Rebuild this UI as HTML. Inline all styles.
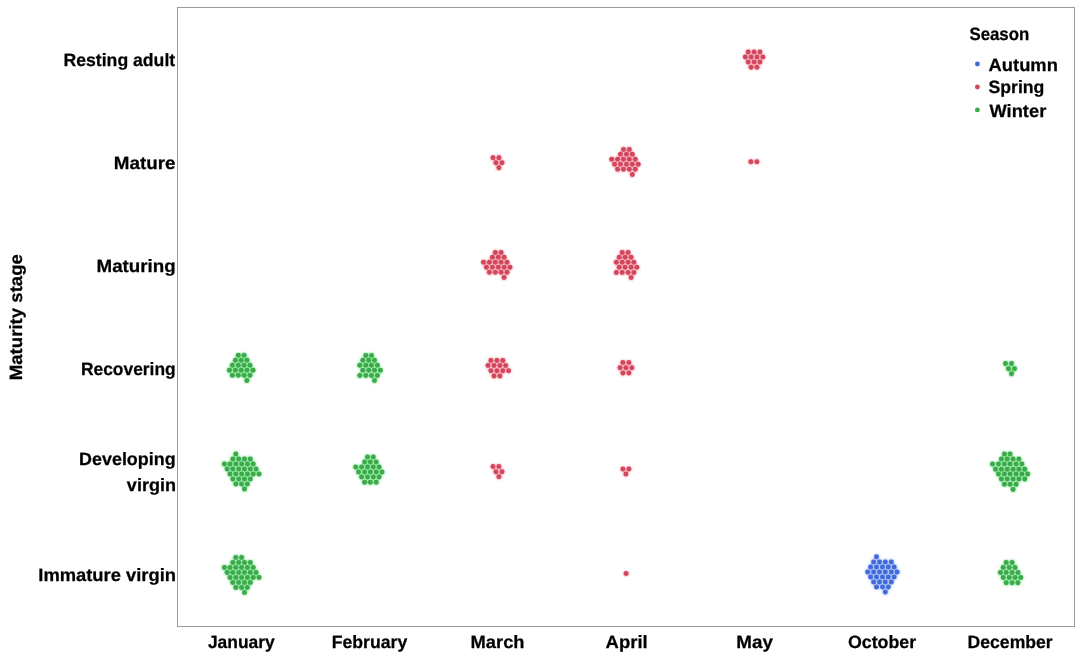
<!DOCTYPE html>
<html lang="en">
<head>
<meta charset="utf-8">
<title>Maturity stage by month</title>
<style>
html,body{margin:0;padding:0;background:#fff;}
body{width:1082px;height:656px;overflow:hidden;}
svg{display:block;will-change:transform;}
text{text-rendering:geometricPrecision;font-family:"Liberation Sans",sans-serif;font-weight:bold;font-size:17.8px;fill:#000;stroke:#000;stroke-width:0.25px;}
</style>
</head>
<body>
<svg width="1082" height="656" viewBox="0 0 1082 656">
<defs><filter id="halo" filterUnits="userSpaceOnUse" x="0" y="0" width="1082" height="656" color-interpolation-filters="sRGB"><feGaussianBlur stdDeviation="0.9"/><feComponentTransfer><feFuncA type="linear" slope="1.0"/></feComponentTransfer></filter></defs>
<rect x="0" y="0" width="1082" height="656" fill="#fff"/>
<rect x="177.5" y="7.5" width="897" height="619" fill="none" stroke="#9a9a9a" stroke-width="1"/>
<g fill="#62DC7A" filter="url(#halo)"><circle cx="235.8" cy="557.4" r="2.6"/><circle cx="241.6" cy="557.4" r="2.6"/><circle cx="232.8" cy="562.4" r="2.6"/><circle cx="238.7" cy="562.4" r="2.6"/><circle cx="244.5" cy="562.4" r="2.6"/><circle cx="250.3" cy="562.4" r="2.6"/><circle cx="224.4" cy="567.4" r="2.6"/><circle cx="230.0" cy="567.4" r="2.6"/><circle cx="235.8" cy="567.4" r="2.6"/><circle cx="241.6" cy="567.4" r="2.6"/><circle cx="247.4" cy="567.4" r="2.6"/><circle cx="253.2" cy="567.4" r="2.6"/><circle cx="227.1" cy="572.4" r="2.6"/><circle cx="232.8" cy="572.4" r="2.6"/><circle cx="238.7" cy="572.4" r="2.6"/><circle cx="244.5" cy="572.4" r="2.6"/><circle cx="250.3" cy="572.4" r="2.6"/><circle cx="256.1" cy="572.4" r="2.6"/><circle cx="230.0" cy="577.4" r="2.6"/><circle cx="235.8" cy="577.4" r="2.6"/><circle cx="241.6" cy="577.4" r="2.6"/><circle cx="247.4" cy="577.4" r="2.6"/><circle cx="253.2" cy="577.4" r="2.6"/><circle cx="259.0" cy="577.4" r="2.6"/><circle cx="232.8" cy="582.4" r="2.6"/><circle cx="238.7" cy="582.4" r="2.6"/><circle cx="244.5" cy="582.4" r="2.6"/><circle cx="250.3" cy="582.4" r="2.6"/><circle cx="235.8" cy="587.4" r="2.6"/><circle cx="241.6" cy="587.4" r="2.6"/><circle cx="247.4" cy="587.4" r="2.6"/><circle cx="244.5" cy="592.4" r="2.6"/><circle cx="235.8" cy="453.9" r="2.6"/><circle cx="232.8" cy="458.9" r="2.6"/><circle cx="238.7" cy="458.9" r="2.6"/><circle cx="244.5" cy="458.9" r="2.6"/><circle cx="250.3" cy="458.9" r="2.6"/><circle cx="224.4" cy="463.9" r="2.6"/><circle cx="230.0" cy="463.9" r="2.6"/><circle cx="235.8" cy="463.9" r="2.6"/><circle cx="241.6" cy="463.9" r="2.6"/><circle cx="247.4" cy="463.9" r="2.6"/><circle cx="253.2" cy="463.9" r="2.6"/><circle cx="227.1" cy="469.0" r="2.6"/><circle cx="232.8" cy="469.0" r="2.6"/><circle cx="238.7" cy="469.0" r="2.6"/><circle cx="244.5" cy="469.0" r="2.6"/><circle cx="250.3" cy="469.0" r="2.6"/><circle cx="256.1" cy="469.0" r="2.6"/><circle cx="230.0" cy="474.0" r="2.6"/><circle cx="235.8" cy="474.0" r="2.6"/><circle cx="241.6" cy="474.0" r="2.6"/><circle cx="247.4" cy="474.0" r="2.6"/><circle cx="253.2" cy="474.0" r="2.6"/><circle cx="259.0" cy="474.0" r="2.6"/><circle cx="232.8" cy="479.0" r="2.6"/><circle cx="238.7" cy="479.0" r="2.6"/><circle cx="244.5" cy="479.0" r="2.6"/><circle cx="250.3" cy="479.0" r="2.6"/><circle cx="235.8" cy="484.0" r="2.6"/><circle cx="241.6" cy="484.0" r="2.6"/><circle cx="247.4" cy="484.0" r="2.6"/><circle cx="244.5" cy="489.0" r="2.6"/><circle cx="238.3" cy="355.3" r="2.6"/><circle cx="244.1" cy="355.3" r="2.6"/><circle cx="235.4" cy="360.2" r="2.6"/><circle cx="241.2" cy="360.2" r="2.6"/><circle cx="247.0" cy="360.2" r="2.6"/><circle cx="232.4" cy="365.2" r="2.6"/><circle cx="238.3" cy="365.2" r="2.6"/><circle cx="244.1" cy="365.2" r="2.6"/><circle cx="250.0" cy="365.2" r="2.6"/><circle cx="229.4" cy="370.2" r="2.6"/><circle cx="235.4" cy="370.2" r="2.6"/><circle cx="241.2" cy="370.2" r="2.6"/><circle cx="247.0" cy="370.2" r="2.6"/><circle cx="253.0" cy="370.2" r="2.6"/><circle cx="232.4" cy="375.3" r="2.6"/><circle cx="238.3" cy="375.3" r="2.6"/><circle cx="244.1" cy="375.3" r="2.6"/><circle cx="250.0" cy="375.3" r="2.6"/><circle cx="246.9" cy="380.4" r="2.6"/><circle cx="365.8" cy="355.4" r="2.6"/><circle cx="371.5" cy="355.4" r="2.6"/><circle cx="362.8" cy="360.3" r="2.6"/><circle cx="368.7" cy="360.3" r="2.6"/><circle cx="374.5" cy="360.3" r="2.6"/><circle cx="359.8" cy="365.3" r="2.6"/><circle cx="365.8" cy="365.3" r="2.6"/><circle cx="371.5" cy="365.3" r="2.6"/><circle cx="377.4" cy="365.3" r="2.6"/><circle cx="362.8" cy="370.3" r="2.6"/><circle cx="368.7" cy="370.3" r="2.6"/><circle cx="374.5" cy="370.3" r="2.6"/><circle cx="380.4" cy="370.3" r="2.6"/><circle cx="359.8" cy="375.5" r="2.6"/><circle cx="365.8" cy="375.5" r="2.6"/><circle cx="371.5" cy="375.5" r="2.6"/><circle cx="377.4" cy="375.5" r="2.6"/><circle cx="374.5" cy="380.6" r="2.6"/><circle cx="367.5" cy="457.1" r="2.6"/><circle cx="373.3" cy="457.1" r="2.6"/><circle cx="364.6" cy="462.1" r="2.6"/><circle cx="370.3" cy="462.1" r="2.6"/><circle cx="376.2" cy="462.1" r="2.6"/><circle cx="355.7" cy="467.1" r="2.6"/><circle cx="361.6" cy="467.1" r="2.6"/><circle cx="367.5" cy="467.1" r="2.6"/><circle cx="373.3" cy="467.1" r="2.6"/><circle cx="379.1" cy="467.1" r="2.6"/><circle cx="358.6" cy="472.1" r="2.6"/><circle cx="364.6" cy="472.1" r="2.6"/><circle cx="370.3" cy="472.1" r="2.6"/><circle cx="376.2" cy="472.1" r="2.6"/><circle cx="382.0" cy="472.1" r="2.6"/><circle cx="361.6" cy="477.1" r="2.6"/><circle cx="367.5" cy="477.1" r="2.6"/><circle cx="373.3" cy="477.1" r="2.6"/><circle cx="379.1" cy="477.1" r="2.6"/><circle cx="364.6" cy="482.3" r="2.6"/><circle cx="370.3" cy="482.3" r="2.6"/><circle cx="376.2" cy="482.3" r="2.6"/><circle cx="1006.2" cy="562.4" r="2.6"/><circle cx="1012.1" cy="562.4" r="2.6"/><circle cx="1003.2" cy="567.4" r="2.6"/><circle cx="1009.2" cy="567.4" r="2.6"/><circle cx="1015.0" cy="567.4" r="2.6"/><circle cx="1000.4" cy="572.6" r="2.6"/><circle cx="1006.2" cy="572.6" r="2.6"/><circle cx="1012.1" cy="572.6" r="2.6"/><circle cx="1018.0" cy="572.6" r="2.6"/><circle cx="1003.2" cy="577.6" r="2.6"/><circle cx="1009.2" cy="577.6" r="2.6"/><circle cx="1015.0" cy="577.6" r="2.6"/><circle cx="1020.8" cy="577.6" r="2.6"/><circle cx="1006.2" cy="582.7" r="2.6"/><circle cx="1012.1" cy="582.7" r="2.6"/><circle cx="1017.9" cy="582.7" r="2.6"/><circle cx="1004.4" cy="454.1" r="2.6"/><circle cx="1010.1" cy="454.1" r="2.6"/><circle cx="1001.4" cy="459.1" r="2.6"/><circle cx="1007.2" cy="459.1" r="2.6"/><circle cx="1013.1" cy="459.1" r="2.6"/><circle cx="1018.9" cy="459.1" r="2.6"/><circle cx="992.5" cy="464.1" r="2.6"/><circle cx="998.5" cy="464.1" r="2.6"/><circle cx="1004.4" cy="464.1" r="2.6"/><circle cx="1010.1" cy="464.1" r="2.6"/><circle cx="1016.1" cy="464.1" r="2.6"/><circle cx="1021.9" cy="464.1" r="2.6"/><circle cx="995.5" cy="469.2" r="2.6"/><circle cx="1001.4" cy="469.2" r="2.6"/><circle cx="1007.2" cy="469.2" r="2.6"/><circle cx="1013.1" cy="469.2" r="2.6"/><circle cx="1018.9" cy="469.2" r="2.6"/><circle cx="1024.8" cy="469.2" r="2.6"/><circle cx="998.5" cy="474.1" r="2.6"/><circle cx="1004.4" cy="474.1" r="2.6"/><circle cx="1010.1" cy="474.1" r="2.6"/><circle cx="1016.1" cy="474.1" r="2.6"/><circle cx="1021.9" cy="474.1" r="2.6"/><circle cx="1027.7" cy="474.1" r="2.6"/><circle cx="1001.4" cy="479.1" r="2.6"/><circle cx="1007.2" cy="479.1" r="2.6"/><circle cx="1013.1" cy="479.1" r="2.6"/><circle cx="1018.9" cy="479.1" r="2.6"/><circle cx="1024.8" cy="479.1" r="2.6"/><circle cx="1004.4" cy="484.3" r="2.6"/><circle cx="1010.1" cy="484.3" r="2.6"/><circle cx="1016.1" cy="484.3" r="2.6"/><circle cx="1013.1" cy="489.4" r="2.6"/><circle cx="1005.5" cy="363.6" r="2.6"/><circle cx="1011.5" cy="363.6" r="2.6"/><circle cx="1008.5" cy="368.7" r="2.6"/><circle cx="1014.5" cy="368.7" r="2.6"/><circle cx="1011.5" cy="373.7" r="2.6"/></g>
<g fill="#3DAA4A"><circle cx="235.8" cy="557.4" r="2.48"/><circle cx="241.6" cy="557.4" r="2.48"/><circle cx="232.8" cy="562.4" r="2.48"/><circle cx="238.7" cy="562.4" r="2.48"/><circle cx="244.5" cy="562.4" r="2.48"/><circle cx="250.3" cy="562.4" r="2.48"/><circle cx="224.4" cy="567.4" r="2.48"/><circle cx="230.0" cy="567.4" r="2.48"/><circle cx="235.8" cy="567.4" r="2.48"/><circle cx="241.6" cy="567.4" r="2.48"/><circle cx="247.4" cy="567.4" r="2.48"/><circle cx="253.2" cy="567.4" r="2.48"/><circle cx="227.1" cy="572.4" r="2.48"/><circle cx="232.8" cy="572.4" r="2.48"/><circle cx="238.7" cy="572.4" r="2.48"/><circle cx="244.5" cy="572.4" r="2.48"/><circle cx="250.3" cy="572.4" r="2.48"/><circle cx="256.1" cy="572.4" r="2.48"/><circle cx="230.0" cy="577.4" r="2.48"/><circle cx="235.8" cy="577.4" r="2.48"/><circle cx="241.6" cy="577.4" r="2.48"/><circle cx="247.4" cy="577.4" r="2.48"/><circle cx="253.2" cy="577.4" r="2.48"/><circle cx="259.0" cy="577.4" r="2.48"/><circle cx="232.8" cy="582.4" r="2.48"/><circle cx="238.7" cy="582.4" r="2.48"/><circle cx="244.5" cy="582.4" r="2.48"/><circle cx="250.3" cy="582.4" r="2.48"/><circle cx="235.8" cy="587.4" r="2.48"/><circle cx="241.6" cy="587.4" r="2.48"/><circle cx="247.4" cy="587.4" r="2.48"/><circle cx="244.5" cy="592.4" r="2.48"/><circle cx="235.8" cy="453.9" r="2.48"/><circle cx="232.8" cy="458.9" r="2.48"/><circle cx="238.7" cy="458.9" r="2.48"/><circle cx="244.5" cy="458.9" r="2.48"/><circle cx="250.3" cy="458.9" r="2.48"/><circle cx="224.4" cy="463.9" r="2.48"/><circle cx="230.0" cy="463.9" r="2.48"/><circle cx="235.8" cy="463.9" r="2.48"/><circle cx="241.6" cy="463.9" r="2.48"/><circle cx="247.4" cy="463.9" r="2.48"/><circle cx="253.2" cy="463.9" r="2.48"/><circle cx="227.1" cy="469.0" r="2.48"/><circle cx="232.8" cy="469.0" r="2.48"/><circle cx="238.7" cy="469.0" r="2.48"/><circle cx="244.5" cy="469.0" r="2.48"/><circle cx="250.3" cy="469.0" r="2.48"/><circle cx="256.1" cy="469.0" r="2.48"/><circle cx="230.0" cy="474.0" r="2.48"/><circle cx="235.8" cy="474.0" r="2.48"/><circle cx="241.6" cy="474.0" r="2.48"/><circle cx="247.4" cy="474.0" r="2.48"/><circle cx="253.2" cy="474.0" r="2.48"/><circle cx="259.0" cy="474.0" r="2.48"/><circle cx="232.8" cy="479.0" r="2.48"/><circle cx="238.7" cy="479.0" r="2.48"/><circle cx="244.5" cy="479.0" r="2.48"/><circle cx="250.3" cy="479.0" r="2.48"/><circle cx="235.8" cy="484.0" r="2.48"/><circle cx="241.6" cy="484.0" r="2.48"/><circle cx="247.4" cy="484.0" r="2.48"/><circle cx="244.5" cy="489.0" r="2.48"/><circle cx="238.3" cy="355.3" r="2.48"/><circle cx="244.1" cy="355.3" r="2.48"/><circle cx="235.4" cy="360.2" r="2.48"/><circle cx="241.2" cy="360.2" r="2.48"/><circle cx="247.0" cy="360.2" r="2.48"/><circle cx="232.4" cy="365.2" r="2.48"/><circle cx="238.3" cy="365.2" r="2.48"/><circle cx="244.1" cy="365.2" r="2.48"/><circle cx="250.0" cy="365.2" r="2.48"/><circle cx="229.4" cy="370.2" r="2.48"/><circle cx="235.4" cy="370.2" r="2.48"/><circle cx="241.2" cy="370.2" r="2.48"/><circle cx="247.0" cy="370.2" r="2.48"/><circle cx="253.0" cy="370.2" r="2.48"/><circle cx="232.4" cy="375.3" r="2.48"/><circle cx="238.3" cy="375.3" r="2.48"/><circle cx="244.1" cy="375.3" r="2.48"/><circle cx="250.0" cy="375.3" r="2.48"/><circle cx="246.9" cy="380.4" r="2.48"/><circle cx="365.8" cy="355.4" r="2.48"/><circle cx="371.5" cy="355.4" r="2.48"/><circle cx="362.8" cy="360.3" r="2.48"/><circle cx="368.7" cy="360.3" r="2.48"/><circle cx="374.5" cy="360.3" r="2.48"/><circle cx="359.8" cy="365.3" r="2.48"/><circle cx="365.8" cy="365.3" r="2.48"/><circle cx="371.5" cy="365.3" r="2.48"/><circle cx="377.4" cy="365.3" r="2.48"/><circle cx="362.8" cy="370.3" r="2.48"/><circle cx="368.7" cy="370.3" r="2.48"/><circle cx="374.5" cy="370.3" r="2.48"/><circle cx="380.4" cy="370.3" r="2.48"/><circle cx="359.8" cy="375.5" r="2.48"/><circle cx="365.8" cy="375.5" r="2.48"/><circle cx="371.5" cy="375.5" r="2.48"/><circle cx="377.4" cy="375.5" r="2.48"/><circle cx="374.5" cy="380.6" r="2.48"/><circle cx="367.5" cy="457.1" r="2.48"/><circle cx="373.3" cy="457.1" r="2.48"/><circle cx="364.6" cy="462.1" r="2.48"/><circle cx="370.3" cy="462.1" r="2.48"/><circle cx="376.2" cy="462.1" r="2.48"/><circle cx="355.7" cy="467.1" r="2.48"/><circle cx="361.6" cy="467.1" r="2.48"/><circle cx="367.5" cy="467.1" r="2.48"/><circle cx="373.3" cy="467.1" r="2.48"/><circle cx="379.1" cy="467.1" r="2.48"/><circle cx="358.6" cy="472.1" r="2.48"/><circle cx="364.6" cy="472.1" r="2.48"/><circle cx="370.3" cy="472.1" r="2.48"/><circle cx="376.2" cy="472.1" r="2.48"/><circle cx="382.0" cy="472.1" r="2.48"/><circle cx="361.6" cy="477.1" r="2.48"/><circle cx="367.5" cy="477.1" r="2.48"/><circle cx="373.3" cy="477.1" r="2.48"/><circle cx="379.1" cy="477.1" r="2.48"/><circle cx="364.6" cy="482.3" r="2.48"/><circle cx="370.3" cy="482.3" r="2.48"/><circle cx="376.2" cy="482.3" r="2.48"/><circle cx="1006.2" cy="562.4" r="2.48"/><circle cx="1012.1" cy="562.4" r="2.48"/><circle cx="1003.2" cy="567.4" r="2.48"/><circle cx="1009.2" cy="567.4" r="2.48"/><circle cx="1015.0" cy="567.4" r="2.48"/><circle cx="1000.4" cy="572.6" r="2.48"/><circle cx="1006.2" cy="572.6" r="2.48"/><circle cx="1012.1" cy="572.6" r="2.48"/><circle cx="1018.0" cy="572.6" r="2.48"/><circle cx="1003.2" cy="577.6" r="2.48"/><circle cx="1009.2" cy="577.6" r="2.48"/><circle cx="1015.0" cy="577.6" r="2.48"/><circle cx="1020.8" cy="577.6" r="2.48"/><circle cx="1006.2" cy="582.7" r="2.48"/><circle cx="1012.1" cy="582.7" r="2.48"/><circle cx="1017.9" cy="582.7" r="2.48"/><circle cx="1004.4" cy="454.1" r="2.48"/><circle cx="1010.1" cy="454.1" r="2.48"/><circle cx="1001.4" cy="459.1" r="2.48"/><circle cx="1007.2" cy="459.1" r="2.48"/><circle cx="1013.1" cy="459.1" r="2.48"/><circle cx="1018.9" cy="459.1" r="2.48"/><circle cx="992.5" cy="464.1" r="2.48"/><circle cx="998.5" cy="464.1" r="2.48"/><circle cx="1004.4" cy="464.1" r="2.48"/><circle cx="1010.1" cy="464.1" r="2.48"/><circle cx="1016.1" cy="464.1" r="2.48"/><circle cx="1021.9" cy="464.1" r="2.48"/><circle cx="995.5" cy="469.2" r="2.48"/><circle cx="1001.4" cy="469.2" r="2.48"/><circle cx="1007.2" cy="469.2" r="2.48"/><circle cx="1013.1" cy="469.2" r="2.48"/><circle cx="1018.9" cy="469.2" r="2.48"/><circle cx="1024.8" cy="469.2" r="2.48"/><circle cx="998.5" cy="474.1" r="2.48"/><circle cx="1004.4" cy="474.1" r="2.48"/><circle cx="1010.1" cy="474.1" r="2.48"/><circle cx="1016.1" cy="474.1" r="2.48"/><circle cx="1021.9" cy="474.1" r="2.48"/><circle cx="1027.7" cy="474.1" r="2.48"/><circle cx="1001.4" cy="479.1" r="2.48"/><circle cx="1007.2" cy="479.1" r="2.48"/><circle cx="1013.1" cy="479.1" r="2.48"/><circle cx="1018.9" cy="479.1" r="2.48"/><circle cx="1024.8" cy="479.1" r="2.48"/><circle cx="1004.4" cy="484.3" r="2.48"/><circle cx="1010.1" cy="484.3" r="2.48"/><circle cx="1016.1" cy="484.3" r="2.48"/><circle cx="1013.1" cy="489.4" r="2.48"/><circle cx="1005.5" cy="363.6" r="2.48"/><circle cx="1011.5" cy="363.6" r="2.48"/><circle cx="1008.5" cy="368.7" r="2.48"/><circle cx="1014.5" cy="368.7" r="2.48"/><circle cx="1011.5" cy="373.7" r="2.48"/></g>
<g fill="#F58A98" filter="url(#halo)"><circle cx="493.0" cy="157.7" r="2.6"/><circle cx="498.9" cy="157.7" r="2.6"/><circle cx="495.9" cy="162.7" r="2.6"/><circle cx="502.0" cy="162.7" r="2.6"/><circle cx="498.9" cy="167.7" r="2.6"/><circle cx="495.3" cy="252.4" r="2.6"/><circle cx="501.1" cy="252.4" r="2.6"/><circle cx="492.4" cy="257.3" r="2.6"/><circle cx="498.3" cy="257.3" r="2.6"/><circle cx="504.1" cy="257.3" r="2.6"/><circle cx="483.5" cy="262.2" r="2.6"/><circle cx="489.4" cy="262.2" r="2.6"/><circle cx="495.3" cy="262.2" r="2.6"/><circle cx="501.1" cy="262.2" r="2.6"/><circle cx="507.0" cy="262.2" r="2.6"/><circle cx="486.4" cy="267.3" r="2.6"/><circle cx="492.4" cy="267.3" r="2.6"/><circle cx="498.3" cy="267.3" r="2.6"/><circle cx="504.1" cy="267.3" r="2.6"/><circle cx="510.0" cy="267.3" r="2.6"/><circle cx="489.4" cy="272.3" r="2.6"/><circle cx="495.3" cy="272.3" r="2.6"/><circle cx="501.1" cy="272.3" r="2.6"/><circle cx="507.0" cy="272.3" r="2.6"/><circle cx="504.1" cy="277.5" r="2.6"/><circle cx="490.9" cy="360.4" r="2.6"/><circle cx="496.9" cy="360.4" r="2.6"/><circle cx="502.8" cy="360.4" r="2.6"/><circle cx="488.0" cy="365.6" r="2.6"/><circle cx="494.0" cy="365.6" r="2.6"/><circle cx="499.9" cy="365.6" r="2.6"/><circle cx="505.7" cy="365.6" r="2.6"/><circle cx="490.9" cy="370.7" r="2.6"/><circle cx="496.9" cy="370.7" r="2.6"/><circle cx="502.8" cy="370.7" r="2.6"/><circle cx="508.6" cy="370.7" r="2.6"/><circle cx="494.0" cy="375.9" r="2.6"/><circle cx="499.9" cy="375.9" r="2.6"/><circle cx="493.0" cy="466.6" r="2.6"/><circle cx="498.9" cy="466.6" r="2.6"/><circle cx="495.9" cy="471.7" r="2.6"/><circle cx="502.0" cy="471.7" r="2.6"/><circle cx="498.9" cy="476.7" r="2.6"/><circle cx="623.5" cy="149.4" r="2.6"/><circle cx="629.3" cy="149.4" r="2.6"/><circle cx="620.5" cy="154.3" r="2.6"/><circle cx="626.5" cy="154.3" r="2.6"/><circle cx="632.3" cy="154.3" r="2.6"/><circle cx="611.7" cy="159.3" r="2.6"/><circle cx="617.6" cy="159.3" r="2.6"/><circle cx="623.5" cy="159.3" r="2.6"/><circle cx="629.3" cy="159.3" r="2.6"/><circle cx="635.3" cy="159.3" r="2.6"/><circle cx="614.6" cy="164.3" r="2.6"/><circle cx="620.5" cy="164.3" r="2.6"/><circle cx="626.5" cy="164.3" r="2.6"/><circle cx="632.3" cy="164.3" r="2.6"/><circle cx="638.2" cy="164.3" r="2.6"/><circle cx="617.6" cy="169.3" r="2.6"/><circle cx="623.5" cy="169.3" r="2.6"/><circle cx="629.3" cy="169.3" r="2.6"/><circle cx="635.3" cy="169.3" r="2.6"/><circle cx="632.3" cy="174.5" r="2.6"/><circle cx="622.2" cy="252.4" r="2.6"/><circle cx="628.1" cy="252.4" r="2.6"/><circle cx="619.2" cy="257.3" r="2.6"/><circle cx="625.1" cy="257.3" r="2.6"/><circle cx="631.1" cy="257.3" r="2.6"/><circle cx="616.3" cy="262.3" r="2.6"/><circle cx="622.2" cy="262.3" r="2.6"/><circle cx="628.1" cy="262.3" r="2.6"/><circle cx="633.9" cy="262.3" r="2.6"/><circle cx="619.2" cy="267.3" r="2.6"/><circle cx="625.1" cy="267.3" r="2.6"/><circle cx="631.1" cy="267.3" r="2.6"/><circle cx="636.9" cy="267.3" r="2.6"/><circle cx="616.3" cy="272.5" r="2.6"/><circle cx="622.2" cy="272.5" r="2.6"/><circle cx="628.1" cy="272.5" r="2.6"/><circle cx="633.9" cy="272.5" r="2.6"/><circle cx="631.1" cy="277.6" r="2.6"/><circle cx="622.9" cy="362.6" r="2.6"/><circle cx="628.9" cy="362.6" r="2.6"/><circle cx="620.0" cy="367.7" r="2.6"/><circle cx="625.9" cy="367.7" r="2.6"/><circle cx="631.9" cy="367.7" r="2.6"/><circle cx="622.9" cy="372.9" r="2.6"/><circle cx="628.9" cy="372.9" r="2.6"/><circle cx="622.9" cy="469.0" r="2.6"/><circle cx="628.9" cy="469.0" r="2.6"/><circle cx="625.9" cy="474.1" r="2.6"/><circle cx="626.1" cy="573.6" r="2.6"/><circle cx="748.2" cy="52.0" r="2.6"/><circle cx="754.1" cy="52.0" r="2.6"/><circle cx="759.9" cy="52.0" r="2.6"/><circle cx="745.3" cy="57.0" r="2.6"/><circle cx="751.1" cy="57.0" r="2.6"/><circle cx="757.0" cy="57.0" r="2.6"/><circle cx="762.9" cy="57.0" r="2.6"/><circle cx="748.2" cy="62.1" r="2.6"/><circle cx="754.1" cy="62.1" r="2.6"/><circle cx="759.9" cy="62.1" r="2.6"/><circle cx="751.1" cy="67.2" r="2.6"/><circle cx="757.0" cy="67.2" r="2.6"/><circle cx="750.9" cy="161.8" r="2.6"/><circle cx="756.9" cy="161.8" r="2.6"/></g>
<g fill="#D1485E"><circle cx="493.0" cy="157.7" r="2.48"/><circle cx="498.9" cy="157.7" r="2.48"/><circle cx="495.9" cy="162.7" r="2.48"/><circle cx="502.0" cy="162.7" r="2.48"/><circle cx="498.9" cy="167.7" r="2.48"/><circle cx="495.3" cy="252.4" r="2.48"/><circle cx="501.1" cy="252.4" r="2.48"/><circle cx="492.4" cy="257.3" r="2.48"/><circle cx="498.3" cy="257.3" r="2.48"/><circle cx="504.1" cy="257.3" r="2.48"/><circle cx="483.5" cy="262.2" r="2.48"/><circle cx="489.4" cy="262.2" r="2.48"/><circle cx="495.3" cy="262.2" r="2.48"/><circle cx="501.1" cy="262.2" r="2.48"/><circle cx="507.0" cy="262.2" r="2.48"/><circle cx="486.4" cy="267.3" r="2.48"/><circle cx="492.4" cy="267.3" r="2.48"/><circle cx="498.3" cy="267.3" r="2.48"/><circle cx="504.1" cy="267.3" r="2.48"/><circle cx="510.0" cy="267.3" r="2.48"/><circle cx="489.4" cy="272.3" r="2.48"/><circle cx="495.3" cy="272.3" r="2.48"/><circle cx="501.1" cy="272.3" r="2.48"/><circle cx="507.0" cy="272.3" r="2.48"/><circle cx="504.1" cy="277.5" r="2.48"/><circle cx="490.9" cy="360.4" r="2.48"/><circle cx="496.9" cy="360.4" r="2.48"/><circle cx="502.8" cy="360.4" r="2.48"/><circle cx="488.0" cy="365.6" r="2.48"/><circle cx="494.0" cy="365.6" r="2.48"/><circle cx="499.9" cy="365.6" r="2.48"/><circle cx="505.7" cy="365.6" r="2.48"/><circle cx="490.9" cy="370.7" r="2.48"/><circle cx="496.9" cy="370.7" r="2.48"/><circle cx="502.8" cy="370.7" r="2.48"/><circle cx="508.6" cy="370.7" r="2.48"/><circle cx="494.0" cy="375.9" r="2.48"/><circle cx="499.9" cy="375.9" r="2.48"/><circle cx="493.0" cy="466.6" r="2.48"/><circle cx="498.9" cy="466.6" r="2.48"/><circle cx="495.9" cy="471.7" r="2.48"/><circle cx="502.0" cy="471.7" r="2.48"/><circle cx="498.9" cy="476.7" r="2.48"/><circle cx="623.5" cy="149.4" r="2.48"/><circle cx="629.3" cy="149.4" r="2.48"/><circle cx="620.5" cy="154.3" r="2.48"/><circle cx="626.5" cy="154.3" r="2.48"/><circle cx="632.3" cy="154.3" r="2.48"/><circle cx="611.7" cy="159.3" r="2.48"/><circle cx="617.6" cy="159.3" r="2.48"/><circle cx="623.5" cy="159.3" r="2.48"/><circle cx="629.3" cy="159.3" r="2.48"/><circle cx="635.3" cy="159.3" r="2.48"/><circle cx="614.6" cy="164.3" r="2.48"/><circle cx="620.5" cy="164.3" r="2.48"/><circle cx="626.5" cy="164.3" r="2.48"/><circle cx="632.3" cy="164.3" r="2.48"/><circle cx="638.2" cy="164.3" r="2.48"/><circle cx="617.6" cy="169.3" r="2.48"/><circle cx="623.5" cy="169.3" r="2.48"/><circle cx="629.3" cy="169.3" r="2.48"/><circle cx="635.3" cy="169.3" r="2.48"/><circle cx="632.3" cy="174.5" r="2.48"/><circle cx="622.2" cy="252.4" r="2.48"/><circle cx="628.1" cy="252.4" r="2.48"/><circle cx="619.2" cy="257.3" r="2.48"/><circle cx="625.1" cy="257.3" r="2.48"/><circle cx="631.1" cy="257.3" r="2.48"/><circle cx="616.3" cy="262.3" r="2.48"/><circle cx="622.2" cy="262.3" r="2.48"/><circle cx="628.1" cy="262.3" r="2.48"/><circle cx="633.9" cy="262.3" r="2.48"/><circle cx="619.2" cy="267.3" r="2.48"/><circle cx="625.1" cy="267.3" r="2.48"/><circle cx="631.1" cy="267.3" r="2.48"/><circle cx="636.9" cy="267.3" r="2.48"/><circle cx="616.3" cy="272.5" r="2.48"/><circle cx="622.2" cy="272.5" r="2.48"/><circle cx="628.1" cy="272.5" r="2.48"/><circle cx="633.9" cy="272.5" r="2.48"/><circle cx="631.1" cy="277.6" r="2.48"/><circle cx="622.9" cy="362.6" r="2.48"/><circle cx="628.9" cy="362.6" r="2.48"/><circle cx="620.0" cy="367.7" r="2.48"/><circle cx="625.9" cy="367.7" r="2.48"/><circle cx="631.9" cy="367.7" r="2.48"/><circle cx="622.9" cy="372.9" r="2.48"/><circle cx="628.9" cy="372.9" r="2.48"/><circle cx="622.9" cy="469.0" r="2.48"/><circle cx="628.9" cy="469.0" r="2.48"/><circle cx="625.9" cy="474.1" r="2.48"/><circle cx="626.1" cy="573.6" r="2.48"/><circle cx="748.2" cy="52.0" r="2.48"/><circle cx="754.1" cy="52.0" r="2.48"/><circle cx="759.9" cy="52.0" r="2.48"/><circle cx="745.3" cy="57.0" r="2.48"/><circle cx="751.1" cy="57.0" r="2.48"/><circle cx="757.0" cy="57.0" r="2.48"/><circle cx="762.9" cy="57.0" r="2.48"/><circle cx="748.2" cy="62.1" r="2.48"/><circle cx="754.1" cy="62.1" r="2.48"/><circle cx="759.9" cy="62.1" r="2.48"/><circle cx="751.1" cy="67.2" r="2.48"/><circle cx="757.0" cy="67.2" r="2.48"/><circle cx="750.9" cy="161.8" r="2.48"/><circle cx="756.9" cy="161.8" r="2.48"/></g>
<g fill="#86A6F8" filter="url(#halo)"><circle cx="876.5" cy="556.8" r="2.6"/><circle cx="873.6" cy="561.9" r="2.6"/><circle cx="879.5" cy="561.9" r="2.6"/><circle cx="885.3" cy="561.9" r="2.6"/><circle cx="891.3" cy="561.9" r="2.6"/><circle cx="870.6" cy="566.9" r="2.6"/><circle cx="876.5" cy="566.9" r="2.6"/><circle cx="882.5" cy="566.9" r="2.6"/><circle cx="888.3" cy="566.9" r="2.6"/><circle cx="894.2" cy="566.9" r="2.6"/><circle cx="867.7" cy="571.9" r="2.6"/><circle cx="873.6" cy="571.9" r="2.6"/><circle cx="879.5" cy="571.9" r="2.6"/><circle cx="885.3" cy="571.9" r="2.6"/><circle cx="891.3" cy="571.9" r="2.6"/><circle cx="897.1" cy="571.9" r="2.6"/><circle cx="870.6" cy="576.9" r="2.6"/><circle cx="876.5" cy="576.9" r="2.6"/><circle cx="882.5" cy="576.9" r="2.6"/><circle cx="888.3" cy="576.9" r="2.6"/><circle cx="894.2" cy="576.9" r="2.6"/><circle cx="873.6" cy="581.9" r="2.6"/><circle cx="879.5" cy="581.9" r="2.6"/><circle cx="885.3" cy="581.9" r="2.6"/><circle cx="891.3" cy="581.9" r="2.6"/><circle cx="876.5" cy="587.0" r="2.6"/><circle cx="882.5" cy="587.0" r="2.6"/><circle cx="888.3" cy="587.0" r="2.6"/><circle cx="885.3" cy="592.1" r="2.6"/></g>
<g fill="#426BD7"><circle cx="876.5" cy="556.8" r="2.48"/><circle cx="873.6" cy="561.9" r="2.48"/><circle cx="879.5" cy="561.9" r="2.48"/><circle cx="885.3" cy="561.9" r="2.48"/><circle cx="891.3" cy="561.9" r="2.48"/><circle cx="870.6" cy="566.9" r="2.48"/><circle cx="876.5" cy="566.9" r="2.48"/><circle cx="882.5" cy="566.9" r="2.48"/><circle cx="888.3" cy="566.9" r="2.48"/><circle cx="894.2" cy="566.9" r="2.48"/><circle cx="867.7" cy="571.9" r="2.48"/><circle cx="873.6" cy="571.9" r="2.48"/><circle cx="879.5" cy="571.9" r="2.48"/><circle cx="885.3" cy="571.9" r="2.48"/><circle cx="891.3" cy="571.9" r="2.48"/><circle cx="897.1" cy="571.9" r="2.48"/><circle cx="870.6" cy="576.9" r="2.48"/><circle cx="876.5" cy="576.9" r="2.48"/><circle cx="882.5" cy="576.9" r="2.48"/><circle cx="888.3" cy="576.9" r="2.48"/><circle cx="894.2" cy="576.9" r="2.48"/><circle cx="873.6" cy="581.9" r="2.48"/><circle cx="879.5" cy="581.9" r="2.48"/><circle cx="885.3" cy="581.9" r="2.48"/><circle cx="891.3" cy="581.9" r="2.48"/><circle cx="876.5" cy="587.0" r="2.48"/><circle cx="882.5" cy="587.0" r="2.48"/><circle cx="888.3" cy="587.0" r="2.48"/><circle cx="885.3" cy="592.1" r="2.48"/></g>
<g fill="#426BD7"><circle cx="977.4" cy="64.0" r="2.45"/></g>
<g fill="#D1485E"><circle cx="977.4" cy="87.0" r="2.45"/></g>
<g fill="#3DAA4A"><circle cx="977.4" cy="109.9" r="2.45"/></g>
<text x="63.53" y="65.7" textLength="111.64" lengthAdjust="spacingAndGlyphs">Resting adult</text>
<text x="113.79" y="168.7" textLength="61.73" lengthAdjust="spacingAndGlyphs">Mature</text>
<text x="96.54" y="271.9" textLength="79.17" lengthAdjust="spacingAndGlyphs">Maturing</text>
<text x="80.98" y="375.3" textLength="94.69" lengthAdjust="spacingAndGlyphs">Recovering</text>
<text x="79.13" y="465.3" textLength="96.45" lengthAdjust="spacingAndGlyphs">Developing</text>
<text x="126.87" y="491.2" textLength="49.1" lengthAdjust="spacingAndGlyphs">virgin</text>
<text x="38.33" y="580.8" textLength="137.66" lengthAdjust="spacingAndGlyphs">Immature virgin</text>
<text x="207.88" y="648.4" textLength="66.86" lengthAdjust="spacingAndGlyphs">January</text>
<text x="331.7" y="648.4" textLength="75.61" lengthAdjust="spacingAndGlyphs">February</text>
<text x="470.59" y="648.4" textLength="53.91" lengthAdjust="spacingAndGlyphs">March</text>
<text x="605.59" y="648.4" textLength="42.13" lengthAdjust="spacingAndGlyphs">April</text>
<text x="736.28" y="648.4" textLength="36.6" lengthAdjust="spacingAndGlyphs">May</text>
<text x="847.9" y="648.4" textLength="68.28" lengthAdjust="spacingAndGlyphs">October</text>
<text x="967.54" y="648.4" textLength="85.19" lengthAdjust="spacingAndGlyphs">December</text>
<text x="969.41" y="39.65" textLength="59.92" lengthAdjust="spacingAndGlyphs">Season</text>
<text x="988.58" y="70.5" textLength="69.27" lengthAdjust="spacingAndGlyphs">Autumn</text>
<text x="988.44" y="93.4" textLength="55.99" lengthAdjust="spacingAndGlyphs">Spring</text>
<text x="989.5" y="116.5" textLength="56.76" lengthAdjust="spacingAndGlyphs">Winter</text>
<text transform="translate(21.9 380.27) rotate(-90)" textLength="126.19" lengthAdjust="spacingAndGlyphs">Maturity stage</text>
</svg>
</body>
</html>
